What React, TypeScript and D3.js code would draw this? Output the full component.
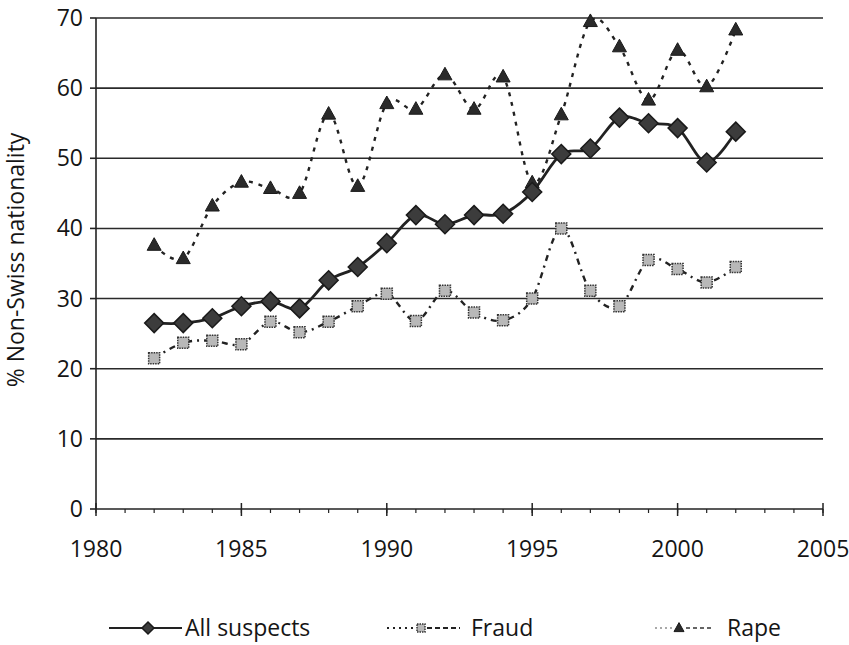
import React from "react";
import * as d3 from "d3";

const years = [1982,1983,1984,1985,1986,1987,1988,1989,1990,1991,1992,1993,1994,1995,1996,1997,1998,1999,2000,2001,2002];
const allSuspects = [26.5,26.5,27.2,28.9,29.6,28.6,32.6,34.5,37.9,41.9,40.6,41.9,42.1,45.2,50.6,51.4,55.8,55.0,54.3,49.4,53.8];
const fraud = [21.5,23.7,24.0,23.5,26.7,25.2,26.7,28.9,30.7,26.8,31.1,28.0,26.9,30.0,40.0,31.1,28.9,35.5,34.2,32.3,34.5];
const rape = [37.6,35.7,43.2,46.6,45.7,45.0,56.3,46.0,57.8,57.0,61.9,57.0,61.6,46.5,56.2,69.5,65.9,58.3,65.4,60.2,68.3];
const yTicks = [0,10,20,30,40,50,60,70];
const xTicks = [1980,1985,1990,1995,2000,2005];
const xMinor = d3.range(1980, 2006);
const yLabel = "% Non-Swiss nationality";
const legendLabels = ["All suspects", "Fraud", "Rape"];

const W = 849, H = 645;
const FONT = "'Open Sans', 'Noto Sans', sans-serif";
const INK = "#151515";
const FS = 23;

function Diamond({ x, y, r = 9.5 }: { x: number; y: number; r?: number }) {
  return <path d={`M${x},${y - r}L${x + r},${y}L${x},${y + r}L${x - r},${y}Z`} fill="#3c3c3c" stroke="#1a1a1a" strokeWidth={1.5} />;
}
function Square({ x, y, s = 11 }: { x: number; y: number; s?: number }) {
  return <rect x={x - s / 2} y={y - s / 2} width={s} height={s} fill="#b8b8b8" stroke="#333" strokeWidth={1.5} strokeDasharray="1.5,1" />;
}
function Tri({ x, y, s = 14 }: { x: number; y: number; s?: number }) {
  const h = s * 0.9;
  return <path d={`M${x},${y - h * 0.6}L${x + s / 2},${y + h * 0.4}L${x - s / 2},${y + h * 0.4}Z`} fill="#2a2a2a" stroke="#1a1a1a" strokeWidth={1} />;
}

export default function App() {
  const x = d3.scaleLinear().domain([1980, 2005]).range([96, 823]);
  const y = d3.scaleLinear().domain([0, 70]).range([509, 18]);
  const line = d3.line<[number, number]>().x(d => x(d[0])).y(d => y(d[1])).curve(d3.curveCatmullRom.alpha(0));
  const pts = (vals: number[]) => years.map((yr, i) => [yr, vals[i]] as [number, number]);

  const ly = 628;
  return (
    <svg width={W} height={H} style={{ position: "absolute", left: 0, top: 0, background: "#fff" }} fontFamily={FONT}>
      {/* gridlines */}
      {yTicks.filter(t => t > 0).map(t => (
        <line key={t} x1={x(1980)} x2={x(2005)} y1={y(t)} y2={y(t)} stroke="#2a2a2a" strokeWidth={1.6} />
      ))}
      {/* y axis */}
      <line x1={x(1980)} x2={x(1980)} y1={y(70)} y2={y(0)} stroke="#222" strokeWidth={1.6} />
      {yTicks.map(t => (
        <g key={t}>
          <line x1={x(1980) - 6} x2={x(1980)} y1={y(t)} y2={y(t)} stroke="#222" strokeWidth={1.6} />
          <text x={83} y={y(t)} dy="0.35em" textAnchor="end" fontSize={FS} fill={INK}>{t}</text>
        </g>
      ))}
      {/* x axis */}
      <line x1={x(1980)} x2={x(2005)} y1={y(0)} y2={y(0)} stroke="#222" strokeWidth={1.6} />
      {xMinor.map(t => (
        <line key={t} x1={x(t)} x2={x(t)} y1={y(0)} y2={y(0) + 4} stroke="#222" strokeWidth={1.2} />
      ))}
      {xTicks.map(t => (
        <g key={t}>
          <line x1={x(t)} x2={x(t)} y1={y(0) - 6} y2={y(0) + 7} stroke="#222" strokeWidth={1.5} />
          <text x={x(t)} y={549} dy="0.35em" textAnchor="middle" fontSize={FS} fill={INK}>{t}</text>
        </g>
      ))}
      <text transform={`translate(16,${260}) rotate(-90)`} textAnchor="middle" dy="0.35em" fontSize={FS} fill={INK}>{yLabel}</text>

      {/* series lines */}
      <path d={line(pts(rape)) || ""} fill="none" stroke="#222" strokeWidth={2.4} strokeDasharray="4,6" />
      <path d={line(pts(fraud)) || ""} fill="none" stroke="#222" strokeWidth={2.4} strokeDasharray="6,5,2,5" />
      <path d={line(pts(allSuspects)) || ""} fill="none" stroke="#222" strokeWidth={2.8} />

      {/* markers */}
      {pts(rape).map(([a, b]) => <Tri key={"r" + a} x={x(a)} y={y(b)} />)}
      {pts(fraud).map(([a, b]) => <Square key={"f" + a} x={x(a)} y={y(b)} />)}
      {pts(allSuspects).map(([a, b]) => <Diamond key={"a" + a} x={x(a)} y={y(b)} />)}

      {/* legend */}
      <g>
        <line x1={109} x2={182} y1={ly} y2={ly} stroke="#222" strokeWidth={2.2} />
        <Diamond x={148} y={ly} r={6} />
        <text x={185} y={ly} dy="0.35em" fontSize={FS} fill={INK}>{legendLabels[0]}</text>

        <line x1={387} x2={415} y1={ly} y2={ly} stroke="#222" strokeWidth={2.2} strokeDasharray="2,4" />
        <line x1={427} x2={460} y1={ly} y2={ly} stroke="#222" strokeWidth={2.2} strokeDasharray="5,3" />
        <Square x={421} y={ly} s={8} />
        <text x={471} y={ly} dy="0.35em" fontSize={FS} fill={INK}>{legendLabels[1]}</text>

        <line x1={655} x2={672} y1={ly} y2={ly} stroke="#555" strokeWidth={1.2} strokeDasharray="2,3" />
        <line x1={686} x2={712} y1={ly} y2={ly} stroke="#333" strokeWidth={1.5} strokeDasharray="4,3" />
        <Tri x={679} y={ly} s={10} />
        <text x={727} y={ly} dy="0.35em" fontSize={FS} fill={INK}>{legendLabels[2]}</text>
      </g>
    </svg>
  );
}
